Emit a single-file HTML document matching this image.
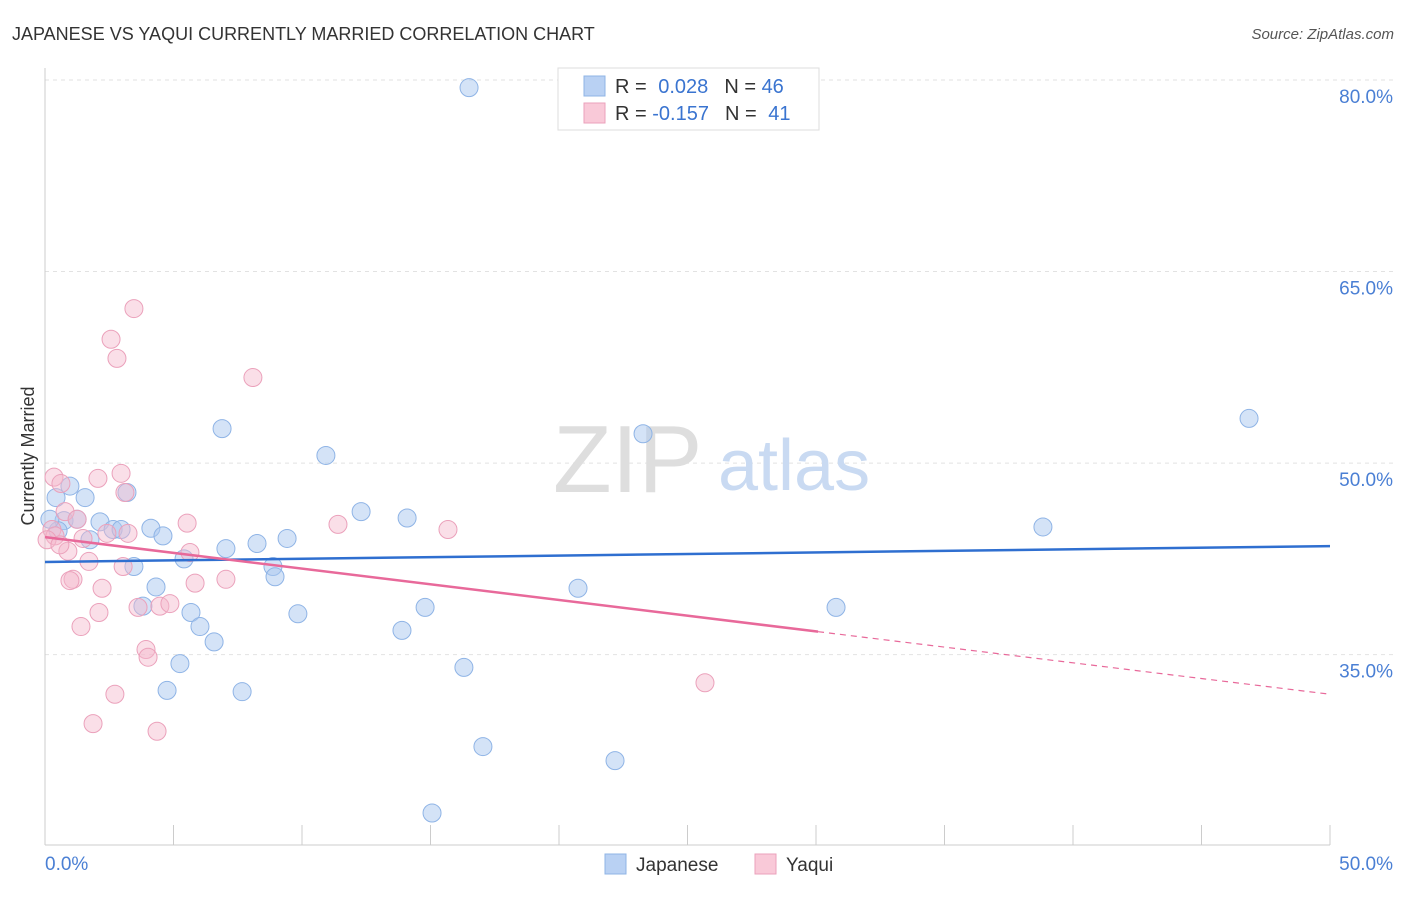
<!DOCTYPE html>
<html><head><meta charset="utf-8"><style>
body{margin:0;background:#fff;font-family:"Liberation Sans",sans-serif}
svg text{font-family:"Liberation Sans",sans-serif}
</style></head><body>
<svg id="chart" width="1406" height="892" xmlns="http://www.w3.org/2000/svg">
<text x="12" y="40" font-size="18" fill="#333">JAPANESE VS YAQUI CURRENTLY MARRIED CORRELATION CHART</text>
<text x="1394" y="39" font-size="15" fill="#555" font-style="italic" text-anchor="end">Source: ZipAtlas.com</text>
<g id="grid"></g>
<g>
<text x="553" y="492" font-size="96" font-family="Liberation Serif" fill="#dedede">ZIP</text>
<text x="718" y="490" font-size="72" fill="#c9daf2">atlas</text>
</g>
<line x1="45" y1="68" x2="45" y2="845" stroke="#ccc"/>
<line x1="45" y1="845" x2="1330" y2="845" stroke="#ccc"/>
<g id="ticks"></g>
<text transform="translate(34,456) rotate(-90)" font-size="18" fill="#333" text-anchor="middle">Currently Married</text>
<text x="45" y="870" font-size="19" fill="#4a7fd4">0.0%</text>
<text x="1393" y="870" font-size="19" fill="#4a7fd4" text-anchor="end">50.0%</text>
<g id="points"></g>
<g id="trends"></g>
<g>
<rect x="558" y="68" width="261" height="62" fill="#fff" stroke="#ddd"/>
<rect x="584" y="76" width="21" height="20" fill="#b9d1f3" stroke="#8fb4e6"/>
<rect x="584" y="103" width="21" height="20" fill="#f9c9d8" stroke="#eba1bb"/>
<text x="615" y="93" font-size="20" fill="#333">R = <tspan fill="#3a74d0" dx="6">0.028</tspan><tspan dx="16" fill="#333">N = </tspan><tspan fill="#3a74d0">46</tspan></text>
<text x="615" y="120" font-size="20" fill="#333">R = <tspan fill="#3a74d0">-0.157</tspan><tspan dx="16" fill="#333">N = </tspan><tspan fill="#3a74d0" dx="6">41</tspan></text>
</g>
<g>
<rect x="605" y="854" width="21" height="20" fill="#b9d1f3" stroke="#8fb4e6"/>
<text x="636" y="871" font-size="19" fill="#333">Japanese</text>
<rect x="755" y="854" width="21" height="20" fill="#f9c9d8" stroke="#eba1bb"/>
<text x="786" y="871" font-size="19" fill="#333">Yaqui</text>
</g>
</svg>
<script>
const yTicks=[80,65,50,35];
const yTickLabels=["80.0%","65.0%","50.0%","35.0%"];
const xTicks=[0,5,10,15,20,25,30,35,40,45,50];
const japX=[16.5,0.43,0.97,1.56,0.74,1.25,2.14,1.75,2.65,2.96,0.51,0.19,3.19,4.12,4.59,3.46,4.32,3.81,5.41,5.68,6.03,6.58,5.25,4.75,7.04,8.25,6.89,9.42,8.87,8.95,9.84,7.67,10.93,12.3,14.09,14.79,13.89,16.3,17.04,15.06,20.74,22.18,23.27,30.78,38.83,46.85];
const japY=[79.4,47.3,48.2,47.3,45.5,45.6,45.4,44.0,44.8,44.8,44.7,45.6,47.7,44.9,44.3,41.9,40.3,38.8,42.5,38.3,37.2,36.0,34.3,32.2,43.3,43.7,52.7,44.1,41.9,41.1,38.2,32.1,50.6,46.2,45.7,38.7,36.9,34.0,27.8,22.6,40.2,26.7,52.3,38.7,45.0,53.5];
const yaqX=[3.46,2.57,2.8,8.09,0.35,0.62,2.06,2.96,3.11,0.78,1.25,5.53,11.4,15.68,0.27,0.39,1.48,2.41,3.23,0.89,5.64,1.71,3.04,1.09,0.97,7.04,5.84,2.22,2.1,3.62,4.47,4.86,1.4,3.93,4.01,2.72,1.87,4.36,25.68,0.08,0.58];
const yaqY=[62.1,59.7,58.2,56.7,48.9,48.4,48.8,49.2,47.7,46.2,45.6,45.3,45.2,44.8,44.8,44.3,44.1,44.5,44.5,43.1,43.0,42.3,41.9,40.9,40.8,40.9,40.6,40.2,38.3,38.7,38.8,39.0,37.2,35.4,34.8,31.9,29.6,29.0,32.8,44.0,43.6];
const japTrend=[42.26,43.5];
const yaqTrend=[44.2,31.9];
const yaqSolidEnd=30.08;
const NS="http://www.w3.org/2000/svg";
function sx(v){return 45+v*25.7;}
function sy(v){return 80+(80-v)*12.77;}
function mk(tag,attrs,parent){const e=document.createElementNS(NS,tag);for(const k in attrs)e.setAttribute(k,attrs[k]);parent.appendChild(e);return e;}
const grid=document.getElementById('grid');
yTicks.forEach((t,i)=>{
 const l=mk('line',{x1:45,x2:1395,y1:sy(t),y2:sy(t),stroke:'#e2e2e2','stroke-dasharray':'4,4'},grid);
 
 
 const tx=mk('text',{x:1393,y:sy(t)+23,'font-size':19,fill:'#4a7fd4','text-anchor':'end'},grid);
 tx.textContent=yTickLabels[i];
 
 
});
const ticks=document.getElementById('ticks');
xTicks.forEach(t=>{
 const l=mk('line',{x1:sx(t),x2:sx(t),y1:825,y2:845,stroke:'#ccc'},ticks);
 
 
});
const pts=document.getElementById('points');
japX.forEach((x,i)=>{
 const c=mk('circle',{cx:sx(x),cy:sy(japY[i]),r:9,fill:'rgba(169,200,240,0.5)',stroke:'#8fb4e6','stroke-width':1},pts);
 
 
});
yaqX.forEach((x,i)=>{
 const c=mk('circle',{cx:sx(x),cy:sy(yaqY[i]),r:9,fill:'rgba(244,184,204,0.45)',stroke:'#eba1bb','stroke-width':1},pts);
 
 
});
const tr=document.getElementById('trends');
const jl=mk('line',{x1:sx(0),y1:sy(japTrend[0]),x2:sx(50),y2:sy(japTrend[1]),stroke:'#2f6fd0','stroke-width':2.5},tr);


const ym=yaqTrend[0]+(yaqTrend[1]-yaqTrend[0])*yaqSolidEnd/50;
const yl=mk('line',{x1:sx(0),y1:sy(yaqTrend[0]),x2:sx(yaqSolidEnd),y2:sy(ym),stroke:'#e8699a','stroke-width':2.5},tr);


const yd=mk('line',{x1:sx(yaqSolidEnd),y1:sy(ym),x2:sx(50),y2:sy(yaqTrend[1]),stroke:'#e8699a','stroke-width':1.2,'stroke-dasharray':'6,5'},tr);


</script>
</body></html>
